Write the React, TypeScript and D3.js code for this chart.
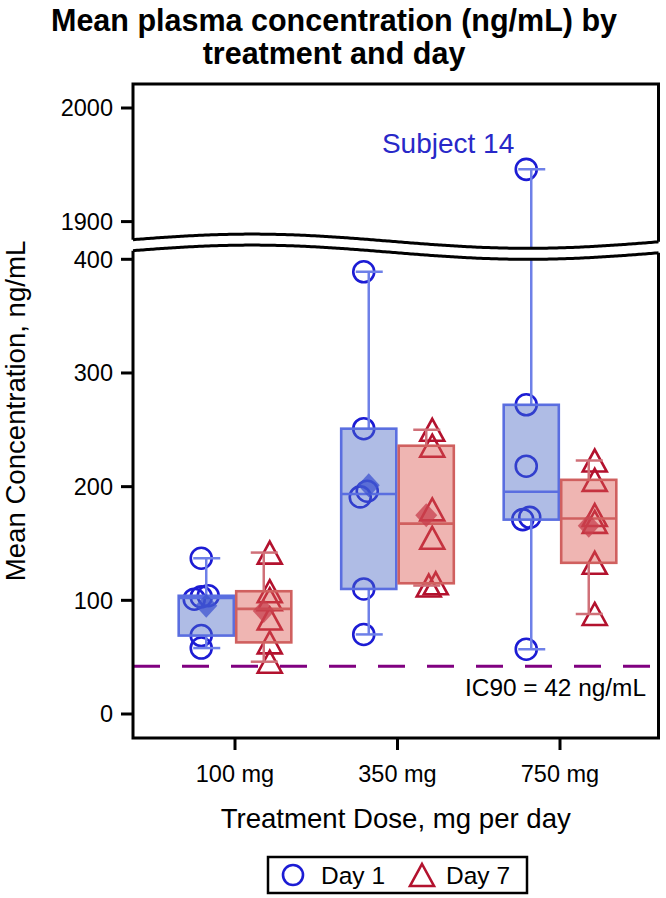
import React from 'react';
import * as d3 from 'd3';

const doses = ['100 mg', '350 mg', '750 mg'];
const days = ['Day 1', 'Day 7'];
const day1Values = [
  [58, 69, 101, 103, 104, 137],
  [70, 110, 191, 196, 251, 389],
  [57, 171, 173, 218, 272, 1946],
];
const day7Values = [
  [46, 63, 84, 101, 108, 142],
  [113, 115, 155, 180, 236, 250],
  [88, 133, 169, 175, 206, 223],
];
const lowerTicks = [0, 100, 200, 300, 400];
const upperTicks = [1900, 2000];
const ic90Value = 42;
const ic90Label = 'IC90 = 42 ng/mL';
const outlierLabel = 'Subject 14';
const outlierValue = 1946;

const W = 666;
const H = 898;
const L = 133;
const R = 658.5;
const T = 84;
const B = 738;
const FONT = '"Liberation Sans", Arial, Helvetica, sans-serif';

const styles: Record<string, any> = {
  'Day 1': {
    marker: '#1c1cd4',
    boxFill: '#4d6bc6',
    boxStroke: '#5a6ee0',
    whisker: '#6e80e8',
    mean: '#3f54d0',
    base: -5,
  },
  'Day 7': {
    marker: '#b3122e',
    boxFill: '#dc5a55',
    boxStroke: '#d0605f',
    whisker: '#d07078',
    mean: '#c8404e',
    base: 6,
  },
};

const yLow = d3.scaleLinear().domain([0, 400]).range([714, 259.3]);
const yHigh = d3.scaleLinear().domain([1900, 2000]).range([221.6, 108]);
const x = d3.scalePoint<string>().domain(doses).range([235, 560]);
const dayBand = d3.scaleBand<string>().domain(days).range([-57.5, 57.5]);

function pctl(s: number[], p: number) {
  const np = s.length * p;
  const j = Math.floor(np);
  if (np === j) return (s[j - 1] + s[j]) / 2;
  return s[j];
}

function jitter(vals: number[]) {
  const s = [...vals].sort((a, b) => a - b);
  const offs = new Array(s.length).fill(0);
  let i = 0;
  while (i < s.length) {
    let j = i;
    while (j + 1 < s.length && s[j + 1] - s[j] <= 5) j++;
    const n = j - i + 1;
    for (let k = i; k <= j; k++) offs[k] = (k - i - (n - 1) / 2) * 7;
    i = j + 1;
  }
  return s.map((v, k) => ({ v, dx: offs[k] }));
}

const groups: any[] = [];
doses.forEach((dose, i) => {
  [day1Values[i], day7Values[i]].forEach((vals, di) => {
    const day = days[di];
    const s = [...vals].sort((a, b) => a - b);
    groups.push({
      dose,
      day,
      cx: (x(dose) as number) + (dayBand(day) as number) + dayBand.bandwidth() / 2,
      q1: pctl(s, 0.25),
      med: pctl(s, 0.5),
      q3: pctl(s, 0.75),
      min: s[0],
      max: s[s.length - 1],
      mean: d3.mean(s) as number,
      pts: jitter(s),
    });
  });
});

const wavePeriod = 552;
const waveAmp = 7.1;
const wavePeak = 252;
const waveY = (c: number) => (px: number) => c - waveAmp * Math.cos((2 * Math.PI * (px - wavePeak)) / wavePeriod);
const wave1 = waveY(241.2);
const wave2 = waveY(252.2);
const waveXs = d3.range(L, R + 0.01, 2).concat([R]);
const lineGen = d3.line<number>();
const wave1Pts = waveXs.map((px) => [px, wave1(px)] as [number, number]);
const wave2Pts = waveXs.map((px) => [px, wave2(px)] as [number, number]);

const upperClip =
  `M${L},${T}L${R},${T}` +
  [...wave1Pts].reverse().map((p) => `L${p[0]},${p[1]}`).join('') +
  'Z';
const lowerClip =
  `M${wave2Pts[0][0]},${wave2Pts[0][1]}` +
  wave2Pts.slice(1).map((p) => `L${p[0]},${p[1]}`).join('') +
  `L${R},${B}L${L},${B}Z`;

function triPath() {
  return 'M0,-11L12,11L-12,11Z';
}

function Marks({ y }: { y: (v: number) => number }) {
  return (
    <g>
      {groups.map((g, gi) => {
        const st = styles[g.day];
        const bw = dayBand.bandwidth();
        return (
          <g key={gi}>
            {g.pts.map((p: any, k: number) => {
              const mx = g.cx + st.base + p.dx;
              const my = y(p.v);
              return g.day === 'Day 1' ? (
                <circle key={k} cx={mx} cy={my} r={10.5} fill="none" stroke={st.marker} strokeWidth={2.6} />
              ) : (
                <path key={k} d={triPath()} transform={`translate(${mx},${my})`} fill="none" stroke={st.marker} strokeWidth={2.6} />
              );
            })}
            <line x1={g.cx} x2={g.cx} y1={y(g.q3)} y2={y(g.max)} stroke={st.whisker} strokeWidth={2.5} />
            <line x1={g.cx} x2={g.cx} y1={y(g.q1)} y2={y(g.min)} stroke={st.whisker} strokeWidth={2.5} />
            <line x1={g.cx - 13} x2={g.cx + 14} y1={y(g.max)} y2={y(g.max)} stroke={st.whisker} strokeWidth={2.5} />
            <line x1={g.cx - 13} x2={g.cx + 14} y1={y(g.min)} y2={y(g.min)} stroke={st.whisker} strokeWidth={2.5} />
            <rect
              x={g.cx - bw / 2 + 1.2}
              y={y(g.q3)}
              width={bw - 2.4}
              height={y(g.q1) - y(g.q3)}
              fill={st.boxFill}
              fillOpacity={0.45}
              stroke={st.boxStroke}
              strokeWidth={2.6}
            />
            <line x1={g.cx - bw / 2 + 1.2} x2={g.cx + bw / 2 - 1.2} y1={y(g.med)} y2={y(g.med)} stroke={st.boxStroke} strokeWidth={2.6} />
            <path
              d="M0,-12L11,0L0,12L-11,0Z"
              transform={`translate(${g.cx},${y(g.mean)})`}
              fill={st.mean}
              fillOpacity={0.75}
            />
          </g>
        );
      })}
    </g>
  );
}

export default function App() {
  const outlierGroup = groups.find((g) => g.max === outlierValue);
  const op = outlierGroup.pts.find((p: any) => p.v === outlierValue);
  const opx = outlierGroup.cx + styles[outlierGroup.day].base + op.dx;
  const opy = yHigh(outlierValue);
  return (
    <svg width={W} height={H} style={{ display: 'block', position: 'absolute', left: 0, top: 0, background: '#fff' }} fontFamily={FONT}>
      <defs>
        <clipPath id="clipUp">
          <path d={upperClip} />
        </clipPath>
        <clipPath id="clipLow">
          <path d={lowerClip} />
        </clipPath>
      </defs>
      <rect x={0} y={0} width={W} height={H} fill="#fff" />
      <text x={334} y={31} textAnchor="middle" fontSize={30.5} fontWeight="bold" fill="#000">
        Mean plasma concentration (ng/mL) by
      </text>
      <text x={334} y={64} textAnchor="middle" fontSize={30.5} fontWeight="bold" fill="#000">
        treatment and day
      </text>

      <g clipPath="url(#clipLow)">
        <line x1={L} x2={R} y1={yLow(ic90Value)} y2={yLow(ic90Value)} stroke="#800080" strokeWidth={3} strokeDasharray="27 22" />
        <Marks y={yLow} />
      </g>
      <g clipPath="url(#clipUp)">
        <Marks y={yHigh} />
      </g>

      <text x={opx - 12} y={opy - 16} textAnchor="end" fontSize={28} fill="#2828c8">
        {outlierLabel}
      </text>
      <text x={R - 12.5} y={yLow(ic90Value) + 30} textAnchor="end" fontSize={24.4} fill="#000">
        {ic90Label}
      </text>

      {/* frame */}
      <path
        d={`M${L},${wave1(L)}L${L},${T}L${R},${T}L${R},${wave1(R)}`}
        fill="none"
        stroke="#000"
        strokeWidth={3}
      />
      <path d={lineGen(wave1Pts) as string} fill="none" stroke="#000" strokeWidth={3} />
      <path
        d={`M${L},${wave2(L)}L${L},${B}L${R},${B}L${R},${wave2(R)}`}
        fill="none"
        stroke="#000"
        strokeWidth={3}
      />
      <path d={lineGen(wave2Pts) as string} fill="none" stroke="#000" strokeWidth={3} />

      {/* y ticks */}
      {lowerTicks.map((t) => (
        <g key={'l' + t}>
          <line x1={L - 12} x2={L} y1={yLow(t)} y2={yLow(t)} stroke="#000" strokeWidth={3} />
          <text x={L - 20} y={yLow(t)} dy="0.35em" textAnchor="end" fontSize={23.5} fill="#000">
            {t}
          </text>
        </g>
      ))}
      {upperTicks.map((t) => (
        <g key={'u' + t}>
          <line x1={L - 12} x2={L} y1={yHigh(t)} y2={yHigh(t)} stroke="#000" strokeWidth={3} />
          <text x={L - 20} y={yHigh(t)} dy="0.35em" textAnchor="end" fontSize={23.5} fill="#000">
            {t}
          </text>
        </g>
      ))}
      {/* x ticks */}
      {doses.map((d) => (
        <g key={d}>
          <line x1={x(d)} x2={x(d)} y1={B} y2={B + 12} stroke="#000" strokeWidth={3} />
          <text x={x(d)} y={782} textAnchor="middle" fontSize={23.5} fill="#000">
            {d}
          </text>
        </g>
      ))}
      <text x={(L + R) / 2} y={828} textAnchor="middle" fontSize={27.6} fill="#000">
        Treatment Dose, mg per day
      </text>
      <text transform={`translate(25,${(T + B) / 2}) rotate(-90)`} textAnchor="middle" fontSize={27.6} fill="#000">
        Mean Concentration, ng/mL
      </text>

      {/* legend */}
      <rect x={268} y={857} width={259} height={36} fill="#fff" stroke="#000" strokeWidth={2.5} />
      <circle cx={293} cy={875} r={10} fill="none" stroke={styles['Day 1'].marker} strokeWidth={2.6} />
      <text x={321} y={884} fontSize={24.5} fill="#000">
        {days[0]}
      </text>
      <path d={triPath()} transform="translate(422,875)" fill="none" stroke={styles['Day 7'].marker} strokeWidth={2.6} />
      <text x={446} y={884} fontSize={24.5} fill="#000">
        {days[1]}
      </text>
    </svg>
  );
}
